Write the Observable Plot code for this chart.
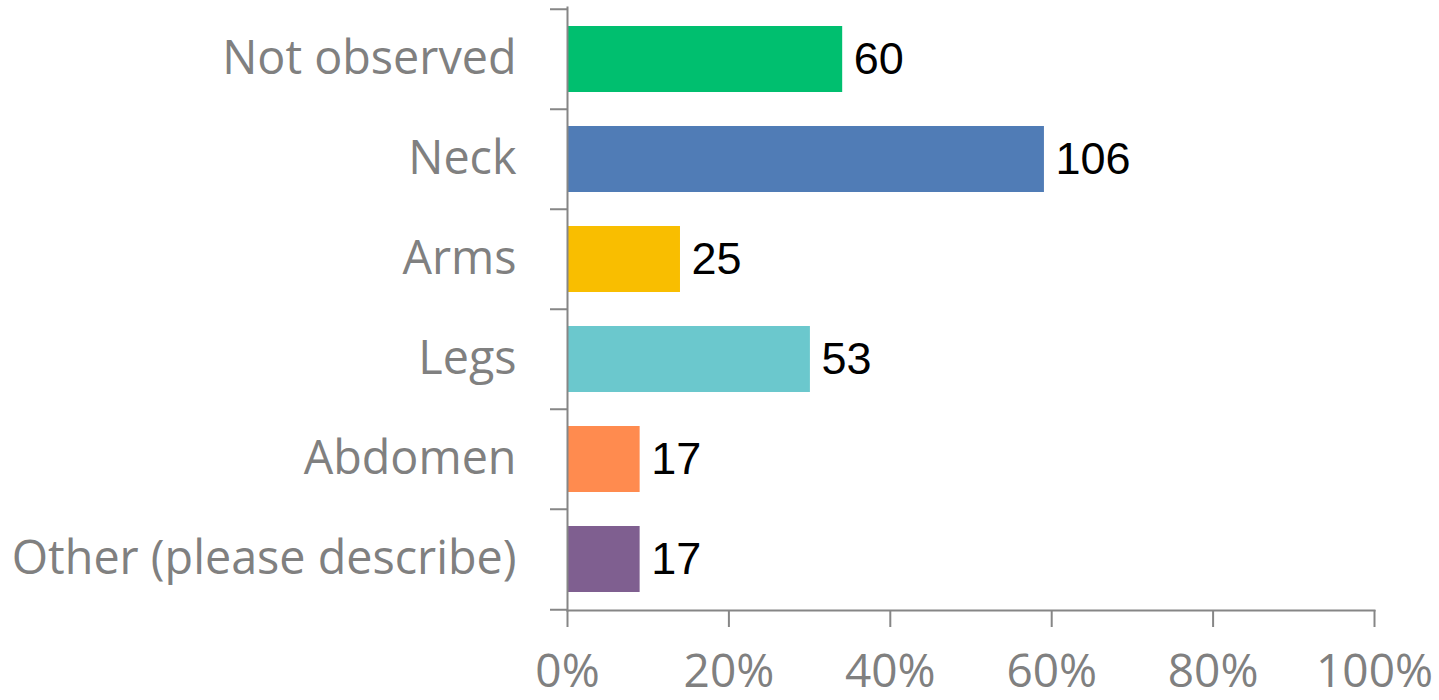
<!DOCTYPE html>
<html>
<head>
<meta charset="utf-8">
<script src="https://cdn.jsdelivr.net/npm/d3@7"></script>
<script src="https://cdn.jsdelivr.net/npm/@observablehq/plot@0.6"></script>
<style>
  html, body { margin: 0; padding: 0; background: #fff; }
  #chart svg { display: block; }
</style>
</head>
<body>
<div id="chart"></div>
<script>
const categories = ["Not observed", "Neck", "Arms", "Legs", "Abdomen", "Other (please describe)"];
const percents = [34.1, 59.1, 14.0, 30.1, 9.0, 9.0];
const counts = [60, 106, 25, 53, 17, 17];
const colors = ["#00BF6F", "#507CB6", "#F9BE00", "#6BC8CD", "#FF8B4F", "#7F5F90"];
const xTicks = [0, 20, 40, 60, 80, 100];

const data = categories.map((c, i) => ({category: c, pct: percents[i], count: counts[i]}));

const W = 1439, H = 700;
const mTop = 7, mBottom = 90, mLeft = 567, mRight = 65;
const step = (H - mTop - mBottom) / categories.length;
const gray = "#868686";
const textGray = "#808080";

const chart = Plot.plot({
  width: W,
  height: H,
  marginTop: mTop,
  marginBottom: mBottom,
  marginLeft: mLeft,
  marginRight: mRight,
  style: {background: "#fff", overflow: "visible"},
  x: {domain: [0, 100], ticks: xTicks, label: null},
  y: {domain: categories, paddingInner: 0.34, paddingOuter: 0.17, label: null},
  color: {domain: categories, range: colors},
  marks: [
    Plot.barX(data, {x: "pct", y: "category", fill: "category"}),
    Plot.text(data, {
      x: "pct", y: "category", text: d => String(d.count),
      textAnchor: "start", dx: 11, fontSize: 45, fill: "#000",
      fontFamily: "Liberation Sans, Arial, sans-serif"
    }),
    // axis lines
    Plot.frame({anchor: "left", stroke: gray, strokeWidth: 2}),
    Plot.frame({anchor: "bottom", stroke: gray, strokeWidth: 2}),
    // y boundary ticks
    Plot.axisY({ticks: categories, tickSize: 17, text: null, label: null, dy: -step / 2, stroke: gray, strokeWidth: 2, strokeOpacity: 1}),
    Plot.axisY({ticks: [categories[categories.length - 1]], tickSize: 17, text: null, label: null, dy: step / 2, stroke: gray, strokeWidth: 2, strokeOpacity: 1}),
    // y labels
    Plot.axisY({
      ticks: categories, tickSize: 0, tickPadding: 51, fontSize: 46.7,
      fill: textGray, fontFamily: "Open Sans, sans-serif", label: null
    }),
    // x axis
    Plot.axisX({
      ticks: xTicks, tickSize: 17, tickPadding: 27, tickFormat: d => d + "%",
      fontSize: 46, fill: textGray, stroke: gray, strokeWidth: 2, strokeOpacity: 1,
      fontFamily: "Open Sans, sans-serif", label: null
    })
  ]
});
document.getElementById("chart").appendChild(chart);
</script>
</body>
</html>
